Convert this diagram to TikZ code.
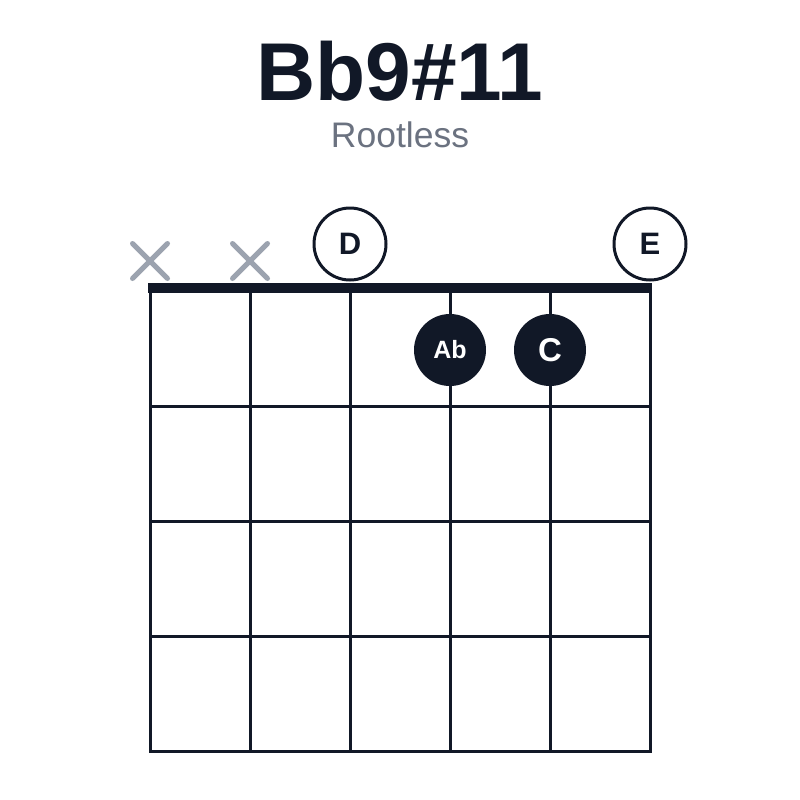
\documentclass[tikz,border=0pt]{standalone}
\usepackage{fontspec}
\setmainfont{Liberation Sans}
\usetikzlibrary{shapes.misc}
\definecolor{ink}{HTML}{111827}
\definecolor{mutegray}{HTML}{9CA3AF}
\definecolor{subgray}{HTML}{6B7280}
\tikzset{
    fret/.style={ink, line width=3pt, line cap=rect},
    nut/.style={ink, line width=10pt},
    fingered/.style={circle, fill=ink, text=white, minimum size=72pt, inner sep=0pt},
    open/.style={circle, draw=ink, fill=white, line width=3pt, text=ink, minimum size=72pt, inner sep=0pt, font=\fontsize{31}{31}\selectfont\bfseries},
    muted/.style={cross out, draw=mutegray, line width=5pt, line cap=round, minimum size=30pt, inner sep=0pt}
}

\begin{document}
\begin{tikzpicture}[x=1pt, y=-1pt]

    \useasboundingbox[fill=white] (0,0) rectangle (800,800);

    \node[anchor=base, text=ink, font=\fontsize{82}{82}\selectfont\bfseries] (title) at (400,100) {Bb9\#11};
    \node[anchor=base, text=subgray, font=\fontsize{35.5}{36}\selectfont] (sub) at (400,147) {Rootless};

    % strings and frets
    \foreach \i in {0,...,5}
    {
        \coordinate (s\i) at (150+100*\i,288);
        \draw[fret] (s\i) -- (150+100*\i,751);
    }
    \foreach \j in {1,...,4}
        \draw[fret] (150,291+115*\j) -- (650,291+115*\j);

    \draw[nut] (148,288) -- (652,288);

    \node[muted] (m0) at (150,261) {};
    \node[muted] (m1) at (250,261) {};

    \node[open] (d) at (350,244) {D};
    \node[open] (e) at (650,244) {E};

    \node[fingered, font=\fontsize{25}{25}\selectfont\bfseries] (ab) at (450,350) {Ab};
    \node[fingered, font=\fontsize{33}{33}\selectfont\bfseries] (c) at (550,350) {C};

\end{tikzpicture}
\end{document}
